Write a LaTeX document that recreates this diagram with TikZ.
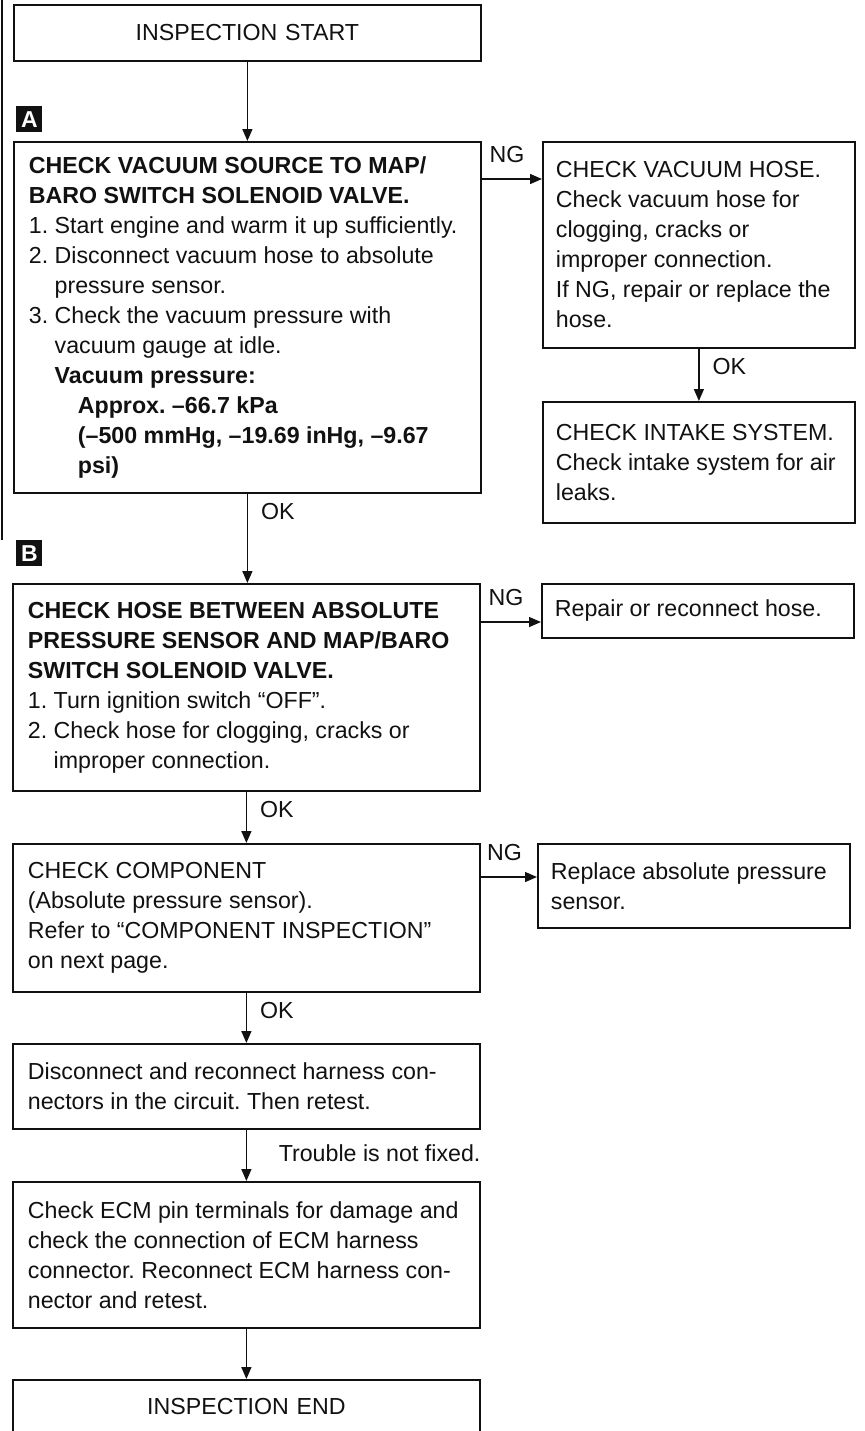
\documentclass[tikz,border=0pt]{standalone}
\usepackage{fontspec}
\setmainfont{Liberation Sans}
\setsansfont{Liberation Sans}
\usepackage{tikz}
\usetikzlibrary{positioning,arrows.meta,calc}
\definecolor{ink}{HTML}{111111}
\newcommand{\numind}{\phantom{1.~}}
\frenchspacing

\begin{document}
\begin{tikzpicture}[x=0.5pt,y=0.5pt,font=\sffamily\fontsize{11.6}{15}\selectfont,text=ink,
  leftbox/.style={draw=ink,line width=0.9pt,anchor=north west,align=flush left,inner xsep=7.5pt,
    text width=218.5pt,minimum width=233.5pt},
  rightbox/.style={draw=ink,line width=0.9pt,anchor=north west,align=flush left,inner xsep=6.5pt,
    text width=143pt,minimum width=156pt},
  marker/.style={fill=ink,text=white,anchor=north west,inner sep=0pt,minimum size=13pt,
    font=\sffamily\bfseries\fontsize{11.5}{11.5}\selectfont},
  arr/.style={draw=ink,line width=0.7pt,-{Triangle[length=6pt,width=5pt]}},
  lab/.style={inner sep=0pt}]
  \useasboundingbox (0,0) rectangle (864,-1431);
  \fill[white] (0,0) rectangle (864,-1431);
  \draw[ink,line width=0.8pt] (2,0) -- (2,-540);

  \node[leftbox,align=center,minimum height=28pt] (start) at (13,-4) {INSPECTION START};
  \node[marker] (mA) at (16,-106) {A};
  \node[leftbox,minimum height=175.5pt] (chkA) at (13,-141) {%
    \textbf{CHECK VACUUM SOURCE TO MAP/}\\
    \textbf{BARO SWITCH SOLENOID VALVE.}\\
    1.~Start engine and warm it up sufficiently.\\
    2.~Disconnect vacuum hose to absolute\\
    \numind pressure sensor.\\
    3.~Check the vacuum pressure with\\
    \numind vacuum gauge at idle.\\
    \numind\textbf{Vacuum pressure:}\\
    \numind\hspace*{1em}\textbf{Approx. \textendash66.7 kPa}\\
    \numind\hspace*{1em}\textbf{(\textendash500 mmHg, \textendash19.69 inHg, \textendash9.67}\\
    \numind\hspace*{1em}\textbf{psi)}};
  \node[rightbox,minimum height=103pt] (hose) at (542,-141) {CHECK VACUUM HOSE.\\
    Check vacuum hose for\\ clogging, cracks or\\ improper connection.\\
    If NG, repair or replace the\\ hose.};
  \node[rightbox,minimum height=60.5pt] (intake) at (542,-401) {CHECK INTAKE SYSTEM.\\
    Check intake system for air\\ leaks.};
  \node[marker] (mB) at (16,-540) {B};
  \node[leftbox,minimum height=103.5pt] (chkB) at (12,-583) {%
    \textbf{CHECK HOSE BETWEEN ABSOLUTE}\\
    \textbf{PRESSURE SENSOR AND MAP/BARO}\\
    \textbf{SWITCH SOLENOID VALVE.}\\
    1.~Turn ignition switch “OFF”.\\
    2.~Check hose for clogging, cracks or\\
    \numind improper connection.};
  \node[rightbox,minimum height=27pt] (repair) at (541,-583) {Repair or reconnect hose.};
  \node[leftbox,minimum height=74pt] (comp) at (12,-843) {CHECK COMPONENT\\
    (Absolute pressure sensor).\\ Refer to “COMPONENT INSPECTION”\\ on next page.};
  \node[rightbox,minimum height=42pt] (replace) at (537,-843) {Replace absolute pressure\\ sensor.};
  \node[leftbox,minimum height=42.5pt] (disc) at (12,-1043) {Disconnect and reconnect harness con-\\
    nectors in the circuit. Then retest.};
  \node[leftbox,minimum height=73pt] (ecm) at (12,-1181) {Check ECM pin terminals for damage and\\
    check the connection of ECM harness\\ connector. Reconnect ECM harness con-\\
    nector and retest.};
  \node[leftbox,align=center,minimum height=27pt] (finish) at (12,-1379) {INSPECTION END};

  \draw[arr] (start.south) -- (start.south |- chkA.north);
  \foreach \a/\b/\dy in {chkA/hose/19,chkB/repair/19.5,comp/replace/17}
    \draw[arr] ([yshift=-\dy pt]\a.north east) -- node[lab,anchor=south,pos=0.42,yshift=8pt] (ng\a) {NG}
      ([yshift=-\dy pt]\b.north west);
  \foreach \a/\b in {hose/intake,chkA/chkB,chkB/comp,comp/disc}
    \draw[arr] (\a.south) -- node[lab,anchor=west,pos=0,xshift=6.5pt,yshift=-9pt] (ok\a) {OK}
      (\a.south |- \b.north);
  \draw[arr] (disc.south) -- (disc.south |- ecm.north);
  \node[lab,anchor=east] (trouble) at ($(disc.south east)!0.45!(ecm.north east)$) {Trouble is not fixed.};
  \draw[arr] (ecm.south) -- (ecm.south |- finish.north);
\end{tikzpicture}
\end{document}
